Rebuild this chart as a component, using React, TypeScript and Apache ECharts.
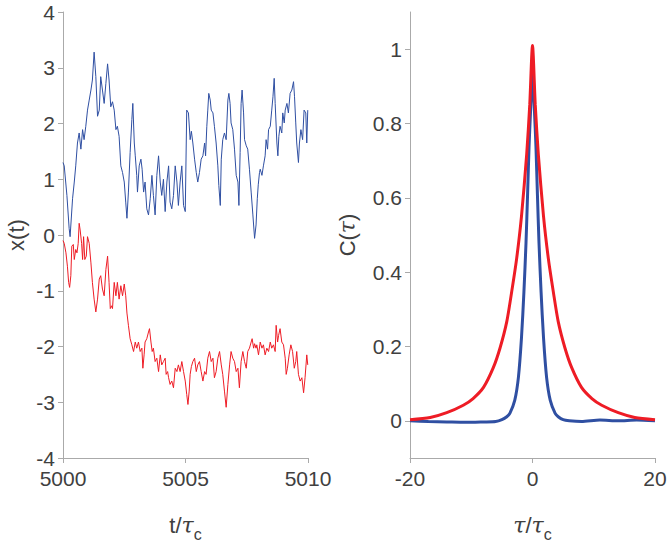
import React, { useEffect, useRef } from "react";
import * as echarts from "echarts";

// Left panel: x(t) traces, [t/τc, x]
const blueTrace: number[][] = [
  [5000.00, 1.30], [5000.05, 1.24], [5000.16, 0.71], [5000.25, 0.12], [5000.29, -0.03],
  [5000.39, 0.65], [5000.46, 0.95], [5000.52, 1.24], [5000.59, 1.65], [5000.66, 1.83],
  [5000.73, 1.54], [5000.80, 1.89], [5000.86, 1.71], [5000.93, 1.95], [5001.00, 2.24],
  [5001.07, 2.42], [5001.14, 2.60], [5001.20, 2.78], [5001.27, 3.28], [5001.34, 2.84],
  [5001.41, 2.13], [5001.48, 2.24], [5001.54, 2.84], [5001.61, 2.60], [5001.68, 2.36],
  [5001.75, 2.72], [5001.82, 3.07], [5001.88, 2.78], [5001.95, 2.30], [5002.02, 2.39],
  [5002.09, 2.24], [5002.16, 1.89], [5002.22, 1.95], [5002.29, 1.77], [5002.36, 1.24],
  [5002.43, 1.12], [5002.50, 0.95], [5002.56, 0.59], [5002.61, 0.30], [5002.67, 0.77],
  [5002.74, 1.48], [5002.81, 2.07], [5002.85, 2.36], [5002.91, 1.65], [5002.95, 1.42],
  [5003.01, 1.07], [5003.04, 0.77], [5003.11, 1.24], [5003.18, 1.36], [5003.23, 1.18],
  [5003.29, 0.77], [5003.35, 0.95], [5003.42, 0.47], [5003.49, 0.36], [5003.56, 0.65],
  [5003.63, 1.07], [5003.69, 0.71], [5003.76, 0.36], [5003.83, 1.07], [5003.90, 1.42],
  [5003.97, 0.95], [5004.03, 0.71], [5004.10, 1.00], [5004.17, 0.42], [5004.24, 0.95],
  [5004.31, 1.24], [5004.37, 0.59], [5004.44, 0.47], [5004.51, 0.71], [5004.58, 1.24],
  [5004.65, 0.95], [5004.71, 0.53], [5004.78, 0.95], [5004.85, 1.24], [5004.92, 0.53],
  [5004.99, 0.42], [5005.05, 2.24], [5005.12, 2.19], [5005.19, 1.71], [5005.24, 1.86],
  [5005.30, 1.65], [5005.37, 1.36], [5005.44, 1.12], [5005.50, 0.95], [5005.57, 1.12],
  [5005.64, 1.36], [5005.71, 1.42], [5005.78, 1.65], [5005.82, 1.42], [5005.87, 1.95],
  [5005.91, 2.24], [5005.95, 2.54], [5006.01, 2.42], [5006.05, 2.24], [5006.12, 2.19],
  [5006.18, 1.95], [5006.25, 1.65], [5006.32, 1.24], [5006.36, 0.89], [5006.42, 0.53],
  [5006.46, 1.36], [5006.52, 1.71], [5006.59, 1.83], [5006.66, 1.71], [5006.73, 2.42],
  [5006.77, 2.54], [5006.82, 2.36], [5006.86, 2.01], [5006.93, 1.89], [5007.00, 1.54],
  [5007.07, 1.07], [5007.14, 0.95], [5007.18, 0.53], [5007.23, 1.48], [5007.27, 2.36],
  [5007.31, 2.60], [5007.37, 2.19], [5007.41, 1.71], [5007.48, 1.60], [5007.54, 1.54],
  [5007.61, 1.18], [5007.68, 0.77], [5007.75, 0.36], [5007.82, -0.06], [5007.88, 0.18],
  [5007.93, 0.65], [5007.97, 0.90], [5008.02, 1.12], [5008.05, 1.18], [5008.12, 1.07],
  [5008.18, 1.24], [5008.25, 1.42], [5008.29, 1.71], [5008.35, 1.54], [5008.39, 1.89],
  [5008.46, 1.95], [5008.52, 2.24], [5008.57, 2.48], [5008.62, 2.81], [5008.66, 2.36],
  [5008.73, 1.65], [5008.77, 1.42], [5008.81, 1.77], [5008.86, 1.95], [5008.93, 1.83],
  [5008.97, 2.19], [5009.03, 2.01], [5009.07, 2.24], [5009.14, 2.36], [5009.20, 2.19],
  [5009.27, 2.54], [5009.34, 2.60], [5009.41, 2.75], [5009.45, 2.48], [5009.50, 2.01],
  [5009.54, 1.65], [5009.61, 1.30], [5009.65, 1.65], [5009.71, 1.89], [5009.78, 1.71],
  [5009.84, 2.24], [5009.91, 2.19], [5009.95, 1.65], [5009.99, 2.24],
];

const redTrace: number[][] = [
  [5000.00, -0.10], [5000.05, -0.15], [5000.12, -0.32], [5000.18, -0.56], [5000.23, -0.85],
  [5000.27, -0.94], [5000.32, -0.73], [5000.36, -0.20], [5000.42, -0.17], [5000.46, -0.44],
  [5000.52, -0.26], [5000.57, -0.32], [5000.62, -0.15], [5000.66, 0.21], [5000.70, 0.09],
  [5000.76, -0.15], [5000.80, -0.44], [5000.84, -0.03], [5000.89, -0.44], [5000.95, -0.38],
  [5001.00, -0.03], [5001.07, -0.15], [5001.14, -0.50], [5001.20, -0.85], [5001.27, -1.15],
  [5001.34, -1.38], [5001.41, -1.15], [5001.48, -0.79], [5001.54, -0.73], [5001.61, -0.97],
  [5001.68, -1.09], [5001.75, -0.62], [5001.82, -0.38], [5001.88, -0.85], [5001.93, -1.32],
  [5001.98, -1.27], [5002.02, -1.32], [5002.09, -0.85], [5002.16, -1.09], [5002.22, -0.85],
  [5002.29, -1.15], [5002.36, -0.91], [5002.43, -1.09], [5002.50, -0.88], [5002.56, -1.09],
  [5002.61, -1.40], [5002.67, -1.62], [5002.74, -1.86], [5002.81, -1.97], [5002.88, -2.09],
  [5002.95, -1.92], [5003.01, -2.03], [5003.08, -1.92], [5003.15, -2.09], [5003.22, -2.03],
  [5003.26, -2.39], [5003.31, -2.15], [5003.35, -1.92], [5003.42, -1.86], [5003.49, -1.74],
  [5003.53, -1.68], [5003.59, -1.92], [5003.64, -2.09], [5003.69, -2.03], [5003.76, -2.27],
  [5003.83, -2.21], [5003.90, -2.45], [5003.97, -2.15], [5004.03, -2.33], [5004.10, -2.27],
  [5004.17, -2.21], [5004.21, -2.50], [5004.27, -2.45], [5004.31, -2.56], [5004.37, -2.68],
  [5004.44, -2.62], [5004.51, -2.74], [5004.58, -2.39], [5004.65, -2.45], [5004.71, -2.33],
  [5004.78, -2.45], [5004.85, -2.27], [5004.92, -2.45], [5004.99, -2.62], [5005.05, -2.86],
  [5005.10, -3.04], [5005.15, -2.80], [5005.19, -2.50], [5005.24, -2.36], [5005.30, -2.27],
  [5005.37, -2.21], [5005.44, -2.45], [5005.50, -2.33], [5005.57, -2.27], [5005.64, -2.45],
  [5005.71, -2.62], [5005.78, -2.45], [5005.84, -2.50], [5005.91, -2.21], [5005.98, -2.09],
  [5006.05, -2.27], [5006.12, -2.21], [5006.18, -2.56], [5006.25, -2.45], [5006.32, -2.21],
  [5006.39, -2.09], [5006.46, -2.33], [5006.52, -2.50], [5006.59, -2.80], [5006.66, -3.09],
  [5006.73, -2.68], [5006.80, -2.33], [5006.86, -2.09], [5006.93, -2.21], [5007.00, -2.27],
  [5007.07, -2.45], [5007.14, -2.39], [5007.20, -2.74], [5007.27, -2.27], [5007.34, -2.09],
  [5007.41, -2.27], [5007.48, -2.39], [5007.54, -2.09], [5007.61, -2.03], [5007.68, -1.92],
  [5007.72, -1.86], [5007.78, -2.03], [5007.82, -1.95], [5007.88, -2.03], [5007.91, -1.97],
  [5007.98, -2.15], [5008.05, -1.92], [5008.12, -2.03], [5008.18, -1.97], [5008.25, -2.15],
  [5008.32, -2.03], [5008.39, -2.09], [5008.46, -1.92], [5008.52, -2.03], [5008.59, -1.97],
  [5008.66, -2.09], [5008.70, -1.62], [5008.76, -1.92], [5008.80, -1.80], [5008.86, -1.68],
  [5008.93, -1.92], [5009.00, -1.97], [5009.07, -2.21], [5009.11, -2.50], [5009.16, -2.39],
  [5009.23, -2.15], [5009.30, -1.97], [5009.37, -2.09], [5009.44, -2.39], [5009.50, -2.27],
  [5009.54, -2.09], [5009.61, -2.50], [5009.68, -2.62], [5009.75, -2.56], [5009.82, -2.83],
  [5009.88, -2.56], [5009.95, -2.15], [5009.99, -2.33],
];

// Right panel: correlation functions, [τ/τc, C]
const corrRed: number[][] = [
  [-20, 0.003], [-16.7, 0.009], [-14, 0.022], [-11.3, 0.042], [-9.7, 0.06], [-8, 0.09],
  [-6.4, 0.143], [-5.3, 0.196], [-4.2, 0.267], [-3.4, 0.347], [-2.6, 0.435], [-1.8, 0.55],
  [-0.95, 0.717], [-0.45, 0.85], [0, 1.01], [0.45, 0.85], [0.95, 0.717], [1.8, 0.55],
  [2.6, 0.435], [3.4, 0.347], [4.2, 0.267], [5.3, 0.196], [6.4, 0.143], [8, 0.09],
  [9.7, 0.06], [11.3, 0.042], [14, 0.022], [16.7, 0.009], [20, 0.003],
];

const corrBlue: number[][] = [
  [-20, 0.0], [-17, -0.002], [-14, -0.003], [-11, -0.004], [-8, -0.003], [-6, -0.002],
  [-5, 0.003], [-4.2, 0.011], [-3.7, 0.02], [-2.9, 0.055], [-2.3, 0.117], [-1.8, 0.223],
  [-1.4, 0.347], [-1.06, 0.479], [-0.8, 0.611], [-0.57, 0.735], [-0.3, 0.84], [0, 0.93],
  [0.3, 0.84], [0.57, 0.735], [0.8, 0.611], [1.06, 0.479], [1.4, 0.347], [1.8, 0.223],
  [2.3, 0.117], [2.9, 0.055], [3.7, 0.02], [4.2, 0.011], [5, 0.003], [6, 0.0],
  [8, -0.002], [11, 0.002], [14, 0.0], [17, 0.002], [20, 0.0],
];

const leftXTicks = [5000, 5005, 5010];
const rightYTicks = [0, 0.2, 0.4, 0.6, 0.8, 1];

const BLUE = "#2f4fa2";
const RED = "#ee1c25";
const AXIS = "#aaaaaa";
const TEXT = "#404040";
const FONT = "Liberation Sans, Arial, Helvetica, sans-serif";

export default function App() {
  const ref = useRef<HTMLDivElement>(null);

  useEffect(() => {
    if (!ref.current) return;
    const chart = echarts.init(ref.current, undefined, { renderer: "svg" });

    const axisCommon = {
      axisLine: { show: true, onZero: false, lineStyle: { color: AXIS, width: 1 } },
      axisTick: { show: true, inside: false, length: 5, lineStyle: { color: AXIS } },
      splitLine: { show: false },
      axisLabel: { color: TEXT, fontSize: 21, fontFamily: FONT },
    };

    const nameRich = {
      n: { fontSize: 22, fontFamily: FONT, color: TEXT, lineHeight: 34, verticalAlign: "middle" },
      g: { fontSize: 22, fontFamily: "DejaVu Serif, serif", fontStyle: "italic", color: TEXT, lineHeight: 34, verticalAlign: "middle" },
      s: { fontSize: 16, fontFamily: FONT, color: TEXT, lineHeight: 34, verticalAlign: "bottom" },
    };

    const option: any = {
      animation: false,
      textStyle: { fontFamily: FONT },
      grid: [
        { left: 63, top: 12, width: 245, height: 453 },
        { left: 410, top: 12, width: 245, height: 453 },
      ],
      xAxis: [
        {
          ...axisCommon,
          type: "value",
          gridIndex: 0,
          min: 5000,
          max: 5010,
          interval: 5,
          axisLabel: {
            ...axisCommon.axisLabel,
            margin: 10,
            customValues: leftXTicks,
            formatter: (v: number) => String(v),
          },
          axisTick: { ...axisCommon.axisTick, customValues: leftXTicks },
          name: "{n|t/}{g|τ}{s|c}",
          nameLocation: "middle",
          nameGap: 50,
          nameTextStyle: { rich: nameRich },
        },
        {
          ...axisCommon,
          type: "value",
          gridIndex: 1,
          min: -20,
          max: 20,
          interval: 20,
          axisLabel: { ...axisCommon.axisLabel, margin: 10, formatter: (v: number) => String(v) },
          name: "{g|τ}{n|/}{g|τ}{s|c}",
          nameLocation: "middle",
          nameGap: 50,
          nameTextStyle: { rich: nameRich },
        },
      ],
      yAxis: [
        {
          ...axisCommon,
          type: "value",
          gridIndex: 0,
          min: -4,
          max: 4,
          interval: 1,
          axisLabel: { ...axisCommon.axisLabel, margin: 8, formatter: (v: number) => String(v) },
          name: "x(t)",
          nameLocation: "middle",
          nameGap: 36,
          nameTextStyle: { fontSize: 22, color: TEXT, fontFamily: FONT },
        },
        {
          ...axisCommon,
          type: "value",
          gridIndex: 1,
          min: -0.1,
          max: 1.1,
          axisLabel: {
            ...axisCommon.axisLabel,
            margin: 8,
            customValues: rightYTicks,
            formatter: (v: number) => String(Math.round(v * 10) / 10),
          },
          axisTick: { ...axisCommon.axisTick, customValues: rightYTicks },
          name: "{n|C(}{g|τ}{n|)}",
          nameLocation: "middle",
          nameGap: 46,
          nameTextStyle: { rich: nameRich },
        },
      ],
      series: [
        {
          type: "line",
          xAxisIndex: 0,
          yAxisIndex: 0,
          data: blueTrace,
          showSymbol: false,
          symbol: "none",
          lineStyle: { color: BLUE, width: 1 },
        },
        {
          type: "line",
          xAxisIndex: 0,
          yAxisIndex: 0,
          data: redTrace,
          showSymbol: false,
          symbol: "none",
          lineStyle: { color: RED, width: 1 },
        },
        {
          type: "line",
          xAxisIndex: 1,
          yAxisIndex: 1,
          data: corrBlue,
          showSymbol: false,
          symbol: "none",
          smooth: 0.25,
          lineStyle: { color: BLUE, width: 3 },
        },
        {
          type: "line",
          xAxisIndex: 1,
          yAxisIndex: 1,
          data: corrRed,
          showSymbol: false,
          symbol: "none",
          smooth: 0.25,
          lineStyle: { color: RED, width: 3 },
        },
      ],
    };

    chart.setOption(option);
    return () => chart.dispose();
  }, []);

  return <div ref={ref} style={{ width: 671, height: 547, position: "absolute", left: 0, top: 0 }} />;
}
